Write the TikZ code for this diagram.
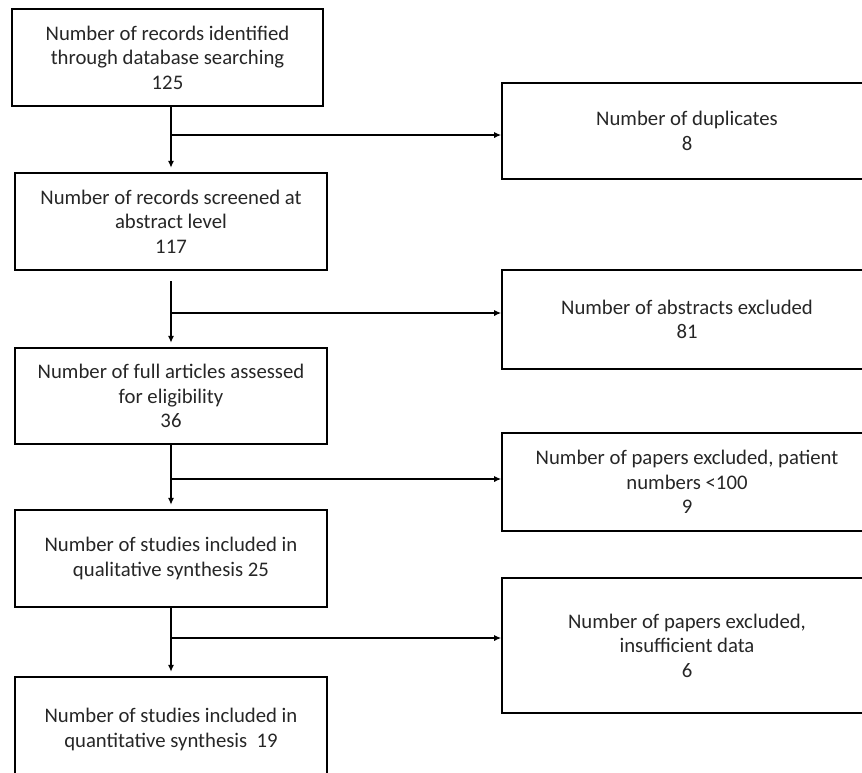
\documentclass[tikz,border=0pt]{standalone}
\usepackage{fontspec}
\setmainfont{Carlito}
\usepackage{tikz}
\usetikzlibrary{arrows.meta}

\begin{document}
\begin{tikzpicture}[x=0.02cm,y=-0.02cm,
  every node/.style={align=center,font=\fontsize{11.8}{14}\selectfont,text=black!85},
  box/.style={draw,line width=0.9pt,minimum width=6.24cm,minimum height=1.94cm,inner sep=0pt},
  side/.style={box,minimum width=7.4cm},
  flow/.style={line width=0.8pt,-{Latex[length=4pt,width=3.5pt]}},
  vflow/.style={flow,shorten >=2.5pt}]
\useasboundingbox (0,0) rectangle (862,772);
\clip (0,0) rectangle (862,772);
% left column
\node[box,minimum width=6.22cm] (rec) at (167.5,57.5) {Number of records identified\\through database searching\\125};
\node[box] (scr) at (171,221.5) {Number of records screened at\\abstract level\\117};
\node[box,minimum height=1.92cm] (full) at (171,396) {Number of full articles assessed\\for eligibility\\36};
\node[box] (qual) at (171,558.5) {Number of studies included in\\qualitative synthesis 25};
\node[box,minimum height=2.1cm] (quan) at (171,729.5) {Number of studies included in\\quantitative synthesis\ \ 19};
% right column
\node[side,minimum height=1.92cm] (dup) at (687,131) {Number of duplicates\\8};
\node[side,minimum height=1.98cm] (abs) at (687,319.5) {Number of abstracts excluded\\81};
\node[side,minimum height=1.96cm] (pat) at (687,482) {Number of papers excluded, patient\\numbers <100\\9};
\node[side,minimum height=2.7cm] (ins) at (687,645.5) {Number of papers excluded,\\insufficient data\\6};
% connectors
\draw[vflow] (rec.south -| scr.north) -- (scr.north);
\draw[vflow,shorten <=6pt] (scr.south) -- (full.north);
\draw[vflow] (full.south) -- (qual.north);
\draw[vflow] (qual.south) -- (quan.north);
\coordinate (b1) at (171,135);
\coordinate (b2) at (171,313);
\coordinate (b3) at (171,479);
\coordinate (b4) at (171,638);
\draw[flow] (b1) -- (b1 -| dup.west);
\draw[flow] (b2) -- (b2 -| abs.west);
\draw[flow] (b3) -- (b3 -| pat.west);
\draw[flow] (b4) -- (b4 -| ins.west);
\end{tikzpicture}
\end{document}
